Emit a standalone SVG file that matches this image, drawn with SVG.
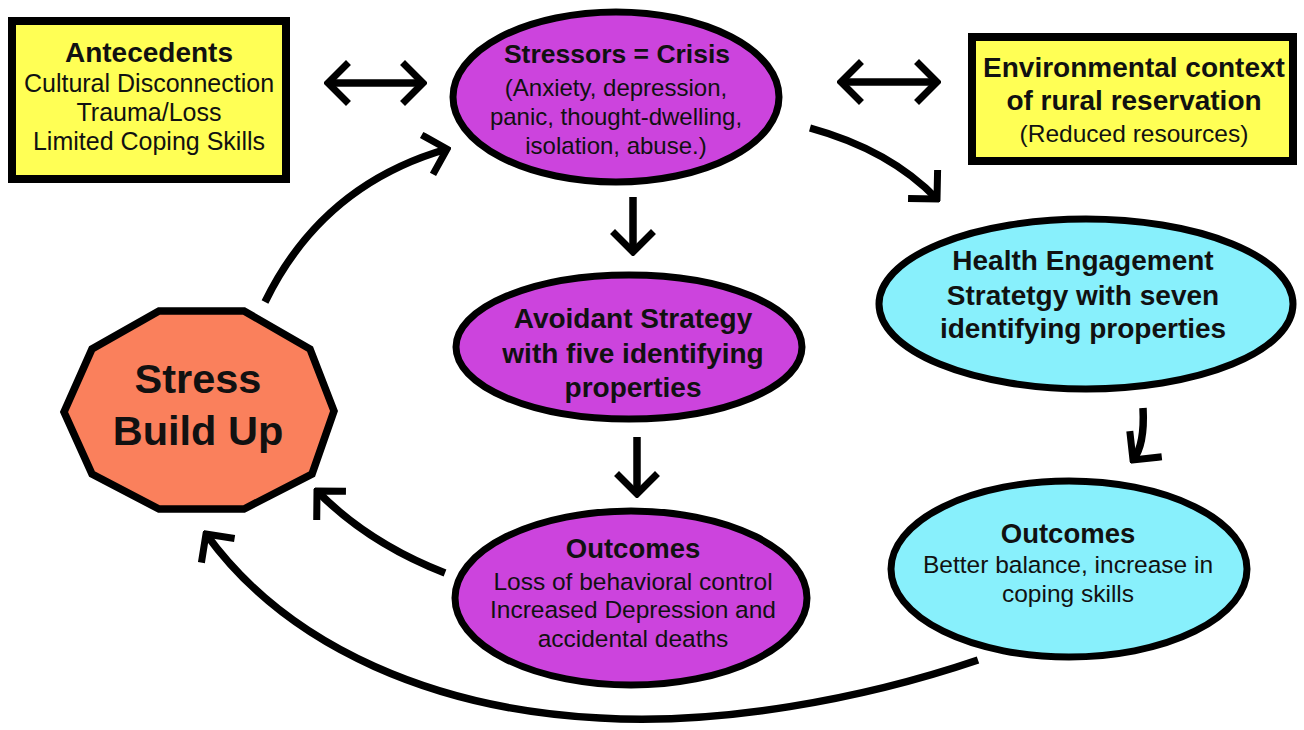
<svg xmlns="http://www.w3.org/2000/svg" width="1304" height="730" viewBox="0 0 1304 730">
  <style>
    .bg { fill: #ffffff; }
    .box { fill: #ffff55; stroke: #000; stroke-width: 8; }
    .purple { fill: #cc44dd; stroke: #000; stroke-width: 7; }
    .cyan { fill: #88f0fc; stroke: #000; stroke-width: 7; }
    .stress { fill: #fa805c; stroke: #000; stroke-width: 7.5; stroke-linejoin: miter; }
    text { font-family: "Liberation Sans", Arial, sans-serif; fill: #111; text-anchor: middle; }
    .b { font-weight: bold; }
    .conn { fill: none; stroke: #000; stroke-width: 7.5; }
  </style>
  <defs>
    <!-- open chevron arrowhead shared by every connector -->
    <marker id="chev" markerUnits="userSpaceOnUse" viewBox="-26 -24 30 48" markerWidth="30" markerHeight="48" refX="0" refY="0" orient="auto-start-reverse">
      <path d="M-18,-18 L0,0 L-18,18" fill="none" stroke="#000" stroke-width="7" stroke-linecap="square" stroke-linejoin="miter"/>
    </marker>
  </defs>

  <rect class="bg" x="0" y="0" width="1304" height="730"/>

  <!-- connectors -->
  <g id="connectors">
    <path class="conn" d="M328,83 L423,83" marker-start="url(#chev)" marker-end="url(#chev)"/>
    <path class="conn" d="M841,82 L937,82" marker-start="url(#chev)" marker-end="url(#chev)"/>
    <path class="conn" d="M633,197 L633,252" marker-end="url(#chev)"/>
    <path class="conn" d="M637,437 L637,494" marker-end="url(#chev)"/>
    <path class="conn" d="M810,128 Q890,150 937,199" marker-end="url(#chev)"/>
    <path class="conn" d="M1143,408 Q1145,445 1133,460" marker-end="url(#chev)"/>
    <path class="conn" d="M265,302 Q322,185 447,149" marker-end="url(#chev)"/>
    <path class="conn" d="M445,573 Q368,543 317,491" marker-end="url(#chev)"/>
    <path class="conn" d="M978,660 C860,700 720,725 600,718 C440,710 290,650 206,534" marker-end="url(#chev)"/>
  </g>

  <g id="antecedents">
    <rect class="box" x="12" y="21" width="274" height="158"/>
    <text class="b" x="149" y="62" font-size="28">Antecedents</text>
    <text x="149" y="92" font-size="25">Cultural Disconnection</text>
    <text x="149" y="121" font-size="25">Trauma/Loss</text>
    <text x="149" y="150" font-size="25">Limited Coping Skills</text>
  </g>

  <g id="stressors">
    <ellipse class="purple" cx="616" cy="97" rx="163" ry="85"/>
    <text class="b" x="617" y="63" font-size="26.5">Stressors = Crisis</text>
    <text x="616" y="96" font-size="24">(Anxiety, depression,</text>
    <text x="616" y="125" font-size="24">panic, thought-dwelling,</text>
    <text x="616" y="154" font-size="24">isolation, abuse.)</text>
  </g>

  <g id="environment">
    <rect class="box" x="972" y="37" width="321" height="124"/>
    <text class="b" x="1134" y="77" font-size="28">Environmental context</text>
    <text class="b" x="1134" y="110" font-size="28">of rural reservation</text>
    <text x="1134" y="142" font-size="24.5">(Reduced resources)</text>
  </g>

  <g id="health-engagement">
    <ellipse class="cyan" cx="1086" cy="304" rx="207" ry="85"/>
    <text class="b" x="1083" y="270" font-size="28">Health Engagement</text>
    <text class="b" x="1083" y="305" font-size="28">Stratetgy with seven</text>
    <text class="b" x="1083" y="338" font-size="28">identifying properties</text>
  </g>

  <g id="avoidant">
    <ellipse class="purple" cx="629" cy="347" rx="173" ry="72"/>
    <text class="b" x="633" y="328" font-size="28">Avoidant Strategy</text>
    <text class="b" x="633" y="363" font-size="28">with five identifying</text>
    <text class="b" x="633" y="397" font-size="28">properties</text>
  </g>

  <g id="outcomes-avoidant">
    <ellipse class="purple" cx="631" cy="598" rx="176" ry="87"/>
    <text class="b" x="633" y="558" font-size="27.5">Outcomes</text>
    <text x="633" y="590" font-size="24.5">Loss of behavioral control</text>
    <text x="633" y="618" font-size="24.5">Increased Depression and</text>
    <text x="633" y="647" font-size="24.5">accidental deaths</text>
  </g>

  <g id="outcomes-engagement">
    <ellipse class="cyan" cx="1069" cy="569" rx="178" ry="88"/>
    <text class="b" x="1068" y="543" font-size="27.5">Outcomes</text>
    <text x="1068" y="573" font-size="24.5">Better balance, increase in</text>
    <text x="1068" y="602" font-size="24.5">coping skills</text>
  </g>

  <g id="stress-build-up">
    <polygon class="stress" points="159,311 244,311 310,349 334,411 312,474 244,509 159,509 92,474 64,412 92,349"/>
    <text class="b" x="198" y="393" font-size="41.5">Stress</text>
    <text class="b" x="198" y="445" font-size="41.5">Build Up</text>
  </g>
</svg>
